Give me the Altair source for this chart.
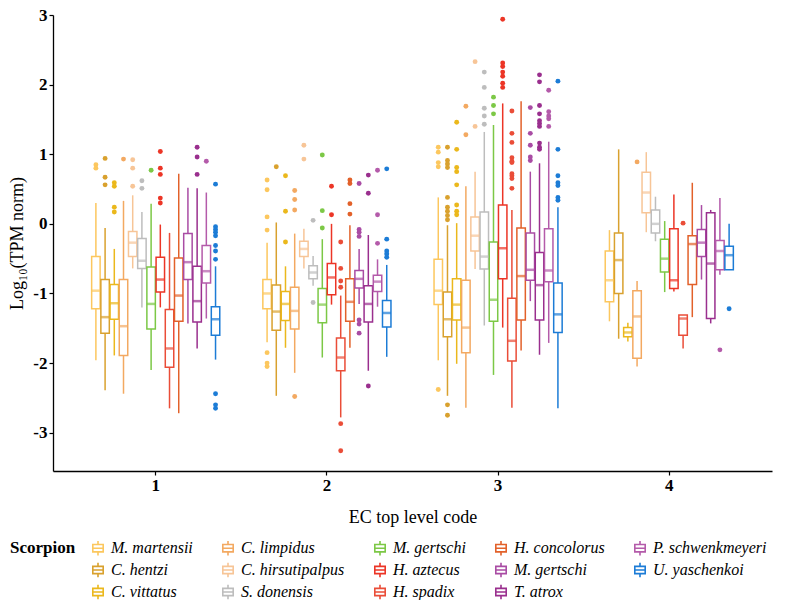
import altair as alt
import pandas as pd

FONT = "Liberation Serif"

EC_CODES = ["1", "2", "3", "4"]
SPECIES = ["M. martensii", "C. hentzi", "C. vittatus", "C. limpidus", "C. hirsutipalpus",
           "S. donensis", "M. gertschi", "H. aztecus", "H. spadix", "H. concolorus",
           "M. gertschi", "T. atrox", "P. schwenkmeyeri", "U. yaschenkoi"]
COLORS = ["#FCC75E", "#D9A12E", "#EBB81C", "#F3A961", "#F7C597", "#BDBDBD", "#7CC846",
          "#EC3526", "#EA4D38", "#E2612A", "#A94CA4", "#9A2F8E", "#B45BAA", "#1C7CD6"]
# legend is filled row by row; this order reproduces the column-wise reading of the reference
LEGEND_ORDER = [0, 3, 6, 9, 12, 1, 4, 7, 10, 13, 2, 5, 8, 11]

# box statistics per EC code (one value per species, in SPECIES order)
LO = {
    "1": [-1.96, -2.39, -1.89, -2.44, -0.64, -1.20, -2.10, -1.20, -2.65, -2.72, -1.43, -1.79, -1.36, -1.95],
    "2": [-1.70, -2.47, -1.78, -2.14, -0.64, -0.89, -1.92, -1.16, -2.78, -1.78, -1.15, -2.11, -1.19, -1.91],
    "3": [-1.96, -2.47, -2.01, -2.64, -0.65, -1.46, -2.17, -1.49, -2.64, -1.82, -1.11, -1.88, -1.71, -2.65],
    "4": [-1.40, -1.65, -1.69, -2.05, -0.12, -0.25, -0.98, -0.97, -1.79, -1.34, -0.80, -1.43, -0.73, -0.66],
}
Q1 = {
    "1": [-1.22, -1.57, -1.37, -1.89, -0.47, -0.64, -1.51, -0.98, -2.06, -1.40, -0.80, -1.41, -0.85, -1.60],
    "2": [-1.22, -1.53, -1.39, -1.51, -0.47, -0.79, -1.42, -1.02, -2.11, -1.40, -0.92, -1.41, -0.97, -1.48],
    "3": [-1.16, -1.62, -1.38, -1.85, -0.39, -0.65, -1.40, -0.79, -1.97, -1.38, -0.81, -1.38, -0.83, -1.56],
    "4": [-1.12, -1.00, -1.62, -1.93, 0.16, -0.13, -0.69, -0.93, -1.60, -0.87, -0.47, -1.36, -0.66, -0.66],
}
MED = {
    "1": [-0.96, -1.34, -1.14, -1.47, -0.27, -0.53, -1.15, -0.80, -1.79, -1.03, -0.55, -1.11, -0.68, -1.37],
    "2": [-1.00, -1.26, -1.15, -1.25, -0.36, -0.70, -1.16, -0.77, -1.92, -1.12, -0.79, -1.15, -0.83, -1.28],
    "3": [-0.96, -1.37, -1.16, -1.49, -0.17, -0.47, -1.09, -0.35, -1.68, -0.75, -0.66, -0.88, -0.67, -1.30],
    "4": [-0.81, -0.52, -1.56, -1.33, 0.45, 0.00, -0.50, -0.81, -1.36, -0.29, -0.27, -0.57, -0.39, -0.45],
}
Q3 = {
    "1": [-0.47, -0.80, -0.87, -0.80, -0.11, -0.21, -0.62, -0.48, -1.23, -0.49, -0.14, -0.61, -0.31, -1.19],
    "2": [-0.80, -0.88, -0.97, -0.91, -0.25, -0.60, -0.93, -0.57, -1.64, -0.79, -0.67, -0.89, -0.74, -1.10],
    "3": [-0.51, -0.98, -0.79, -0.81, 0.10, 0.17, -0.26, 0.27, -1.07, -0.06, -0.13, -0.41, -0.07, -0.85],
    "4": [-0.39, -0.13, -1.49, -0.96, 0.74, 0.20, -0.22, -0.07, -1.31, -0.17, -0.08, 0.16, -0.24, -0.32],
}
HI = {
    "1": [0.30, -0.06, -0.36, 0.33, 0.41, 0.17, 0.29, -0.01, -0.13, 0.72, 0.52, 0.51, 0.45, -0.61],
    "2": [-0.27, 0.02, -0.61, -0.14, -0.07, -0.46, -0.22, 0.00, -1.03, -0.02, -0.36, -0.16, -0.51, -0.59],
    "3": [0.38, -0.02, 0.01, 0.54, 0.75, 1.32, 1.42, 1.73, 0.20, 1.76, 0.75, 0.87, 1.18, 0.24],
    "4": [-0.09, 1.07, -1.42, -0.82, 1.03, 0.39, 0.04, 0.42, -1.31, 0.59, 0.27, 0.20, 0.37, 0.00],
}
OUTLIERS = {
    "1": [[0.85, 0.80], [0.94, 0.67, 0.56], [0.59, 0.54, 0.24, 0.17], [0.93], [0.92, 0.80, 0.54],
          [0.62, 0.51], [0.77], [1.04, 0.80, 0.71, 0.37, 0.30], [], [], [], [1.10, 0.96, 0.71], [0.90],
          [0.57, -0.04, -0.08, -0.12, -0.17, -0.31, -0.39, -0.51, -2.44, -2.60, -2.65]],
    "2": [[0.63, 0.49, 0.10, -0.09, -1.85, -2.00, -2.05], [0.82], [0.69, 0.18, -0.26],
          [0.48, 0.35, 0.20, -2.48], [1.13, 0.93], [0.05, -1.13], [0.99, 0.19, -0.06], [0.54, 0.13],
          [-0.26, -0.64, -0.82, -0.91, -2.87, -3.26], [0.63, 0.58, 0.29, 0.14],
          [0.58, -0.08, -0.12, -0.18, -1.38, -1.44, -1.57], [0.70, 0.44, -2.33], [0.77, 0.13, -0.28],
          [0.79, -0.22, -0.39, -0.43, -0.48]],
    "3": [[1.10, 1.03, 0.88, 0.82, -2.38], [1.10, 0.91, 0.86, 0.81, 0.38, 0.24, 0.18, 0.12, 0.06, -2.60, -2.75],
          [1.46, 1.07, 0.81, 0.75, 0.56, 0.27, 0.18, 0.13], [1.69, 1.28], [2.33, 1.40],
          [2.18, 1.96, 1.66, 1.55, 1.43], [1.82, 1.70, 1.58], [2.94, 2.31, 2.26, 2.18, 2.12, 2.02, 1.96],
          [1.62, 1.30, 1.17, 0.95, 0.90, 0.88, 0.72, 0.69, 0.65, 0.51], [], [1.67, 1.30, 1.13, 0.96, 0.91],
          [2.14, 2.04, 1.70, 1.58, 1.48, 1.44, 1.40, 1.16, 1.10, 1.07], [1.92, 1.61, 1.55, 1.51, 1.40],
          [2.05, 1.07, 0.69, 0.59, 0.55, 0.38, 0.34]],
    "4": [[], [], [], [0.89], [], [], [], [], [0.01], [], [], [], [-1.81], [-1.22]],
}

KEYS = [str(i) for i in range(len(SPECIES))]

box_rows = []
out_rows = []
for ec in EC_CODES:
    for i, k in enumerate(KEYS):
        box_rows.append({"ec": ec, "sp": k, "lo": LO[ec][i], "q1": Q1[ec][i], "med": MED[ec][i],
                         "q3": Q3[ec][i], "hi": HI[ec][i]})
        for v in OUTLIERS[ec][i]:
            out_rows.append({"ec": ec, "sp": k, "val": v})
boxes = pd.DataFrame(box_rows)
outs = pd.DataFrame(out_rows)

leg_domain = [KEYS[i] for i in LEGEND_ORDER]
leg_range = [COLORS[i] for i in LEGEND_ORDER]
names_js = "[" + ",".join("'" + s + "'" for s in SPECIES) + "]"
# empty slots on both sides of each group so the 14 boxes take ~3/4 of the band
offset_domain = ["_a", "_b"] + KEYS + ["_y", "_z"]

symbol_path = ("M-0.85,-0.6H0.85V0.6H-0.85Z M-0.85,0H0.85 "
               "M0,-1.2V-0.6 M0,0.6V1.2")

x_enc = alt.X("ec:N", scale=alt.Scale(domain=EC_CODES, paddingInner=0, paddingOuter=0.1),
              axis=alt.Axis(title="EC top level code", labelAngle=0, titlePadding=15))
xoff = alt.XOffset("sp:N", scale=alt.Scale(domain=offset_domain, paddingInner=0.08, paddingOuter=0.34))
yscale = alt.Scale(domain=[-3.55, 3.0], nice=False, zero=False)
y_axis = alt.Axis(title="Log₁₀(TPM norm)", values=[-3, -2, -1, 0, 1, 2, 3],
                  labelExpr="toString(datum.value)", titlePadding=6)
# stroke / fill scales get an extra unused domain entry each, so their (hidden) legends
# are not merged into the visible colour legend
stroke_enc = alt.Stroke("sp:N", scale=alt.Scale(domain=leg_domain + ["_s"], range=leg_range + ["#000000"]),
                        legend=None)
fill_enc = alt.Fill("sp:N", scale=alt.Scale(domain=leg_domain + ["_f"], range=leg_range + ["#000000"]),
                    legend=None)
color_enc = alt.Color(
    "sp:N", scale=alt.Scale(domain=leg_domain, range=leg_range),
    legend=alt.Legend(
        title="Scorpion", orient="none", legendX=-43, legendY=525, columns=5,
        direction="horizontal", titleOrient="left", titleAnchor="start", titleBaseline="top",
        titleFont=FONT, titleFontSize=17,
        titleFontWeight="bold", titleColor="black", titlePadding=14,
        labelFont=FONT, labelFontStyle="italic", labelFontSize=16, labelColor="black",
        labelExpr=names_js + "[toNumber(datum.value)]",
        symbolType=symbol_path, symbolSize=150, symbolStrokeWidth=1.6, symbolOpacity=1,
        columnPadding=26, rowPadding=0, labelOffset=5,
    ))

# layer of zero-size points that only carries the legend (unfilled box-plot glyphs)
legend_carrier = alt.Chart(boxes).mark_point(size=0, strokeWidth=0, filled=False).encode(
    x=x_enc, xOffset=xoff, y=alt.Y("med:Q", scale=yscale, axis=y_axis), color=color_enc)

upper = alt.Chart(boxes).mark_rule(strokeWidth=1.5).encode(
    x=x_enc, xOffset=xoff,
    y=alt.Y("q3:Q", scale=yscale, axis=y_axis),
    y2="hi:Q", stroke=stroke_enc)

lower = alt.Chart(boxes).mark_rule(strokeWidth=1.5).encode(
    x=x_enc, xOffset=xoff,
    y=alt.Y("lo:Q", scale=yscale, axis=y_axis),
    y2="q1:Q", stroke=stroke_enc)

box = alt.Chart(boxes).mark_bar(filled=False, strokeWidth=1.5).encode(
    x=x_enc, xOffset=xoff, y=alt.Y("q1:Q", scale=yscale, axis=y_axis), y2="q3:Q", stroke=stroke_enc)

median = alt.Chart(boxes).mark_tick(size=8.5, thickness=2.5).encode(
    x=x_enc, xOffset=xoff, y=alt.Y("med:Q", scale=yscale, axis=y_axis), fill=fill_enc)

points = alt.Chart(outs).mark_circle(size=24, opacity=1).encode(
    x=x_enc, xOffset=xoff, y=alt.Y("val:Q", scale=yscale, axis=y_axis), fill=fill_enc)

chart = alt.layer(legend_carrier, box, upper, lower, median, points).properties(
    width=719, height=456,
    autosize=alt.AutoSizeParams(type="none"),
    padding={"left": 45, "top": 7, "right": 5, "bottom": 129},
).configure_view(stroke=None).configure_axis(
    grid=False, domainColor="black", domainWidth=1.3, tickColor="black", tickSize=4,
    tickWidth=1.2, labelFont=FONT, labelFontWeight="bold", labelFontSize=17, labelColor="black",
    labelPadding=2, titleFont=FONT, titleFontWeight="normal", titleFontSize=18, titleColor="black",
)

chart.save("out.html", embed_options={"renderer": "svg", "actions": False})
